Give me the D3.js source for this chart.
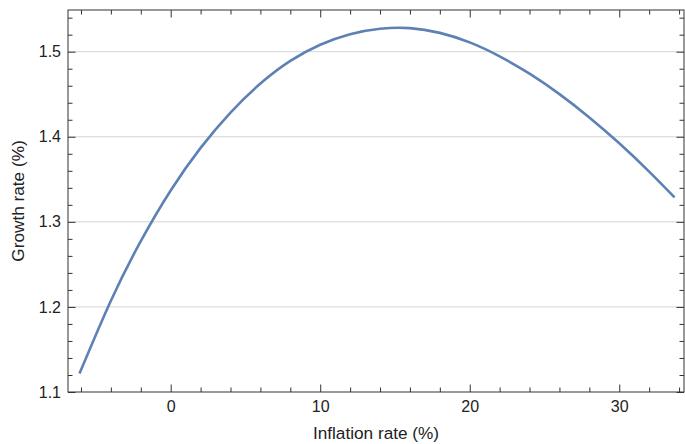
<!DOCTYPE html>
<html>
<head>
<meta charset="utf-8">
<script src="https://cdn.jsdelivr.net/npm/d3@7"></script>
<style>
  body { margin: 0; background: #fff; }
  svg text { font-family: "Liberation Sans", Arial, sans-serif; fill: #222; }
</style>
</head>
<body>
<div id="chart"></div>
<script>
// values
const inflation = [-6.1, -4, -2, 0, 2, 4, 6, 8, 10, 12, 14, 16, 18, 20, 22, 24, 26, 28, 30, 32, 33.7];
const growth = [1.1216, 1.2073, 1.2773, 1.3369, 1.3869, 1.4285, 1.4625, 1.4891, 1.5081, 1.5205, 1.5269, 1.5277,
    1.5221, 1.5109, 1.4945, 1.4741, 1.4501, 1.4227, 1.3923, 1.3591, 1.3287];
const xMajor = [0, 10, 20, 30];
const xMinor = [-6, -4, -2, 2, 4, 6, 8, 12, 14, 16, 18, 22, 24, 26, 28, 32, 34];
const yMajor = [1.1, 1.2, 1.3, 1.4, 1.5];
const yMinor = [1.12, 1.14, 1.16, 1.18, 1.22, 1.24, 1.26, 1.28, 1.32, 1.34, 1.36, 1.38, 1.42, 1.44, 1.46, 1.48, 1.52, 1.54];
const gridY = [1.2, 1.3, 1.4, 1.5];

const W = 685, H = 444;
const margin = {top: 10, right: 1, bottom: 52, left: 68};
const w = W - margin.left - margin.right;
const h = H - margin.top - margin.bottom;

const svg = d3.select('#chart').append('svg')
    .attr('width', W)
    .attr('height', H);
const g = svg.append('g')
    .attr('transform', `translate(${margin.left},${margin.top})`);

const x = d3.scaleLinear().domain([-6.868, 34.33]).range([0, w]);
const y = d3.scaleLinear().domain([1.1, 1.549]).range([h, 0]);

// grid lines
g.selectAll('.grid').data(gridY).enter().append('line')
    .attr('x1', 0).attr('x2', w)
    .attr('y1', d => y(d)).attr('y2', d => y(d))
    .attr('stroke', '#d4d4d4').attr('stroke-width', 1);

// curve
const pts = inflation.map((v, i) => [v, growth[i]]);
g.append('path')
    .datum(pts)
    .attr('fill', 'none')
    .attr('stroke', '#5e81b5')
    .attr('stroke-width', 2.6)
    .attr('d', d3.line().x(d => x(d[0])).y(d => y(d[1])).curve(d3.curveNatural));

function style(sel) {
    sel.select('.domain').remove();
    sel.selectAll('line').attr('stroke', '#333');
    sel.selectAll('text').attr('font-size', 16).attr('fill', '#222');
}

// major & minor ticks on all four sides (inward)
g.append('g').attr('transform', `translate(0,${h})`)
    .call(d3.axisBottom(x).tickValues(xMajor).tickSize(-7.5).tickPadding(9).tickFormat(d3.format('d')))
    .call(style);
g.append('g').attr('transform', `translate(0,${h})`)
    .call(d3.axisBottom(x).tickValues(xMinor).tickSize(-4.5).tickFormat(''))
    .call(style);
g.append('g')
    .call(d3.axisTop(x).tickValues(xMajor).tickSize(-7.5).tickFormat(''))
    .call(style);
g.append('g')
    .call(d3.axisTop(x).tickValues(xMinor).tickSize(-4.5).tickFormat(''))
    .call(style);

g.append('g')
    .call(d3.axisLeft(y).tickValues(yMajor).tickSize(-7.5).tickPadding(7).tickFormat(d3.format('.1f')))
    .call(style);
g.append('g')
    .call(d3.axisLeft(y).tickValues(yMinor).tickSize(-4.5).tickFormat(''))
    .call(style);
g.append('g').attr('transform', `translate(${w},0)`)
    .call(d3.axisRight(y).tickValues(yMajor).tickSize(-7.5).tickFormat(''))
    .call(style);
g.append('g').attr('transform', `translate(${w},0)`)
    .call(d3.axisRight(y).tickValues(yMinor).tickSize(-4.5).tickFormat(''))
    .call(style);

// frame
g.append('rect')
    .attr('x', 0).attr('y', 0).attr('width', w).attr('height', h)
    .attr('fill', 'none').attr('stroke', '#333').attr('stroke-width', 1);

// axis titles
svg.append('text')
    .attr('x', margin.left + w / 2).attr('y', 439)
    .attr('text-anchor', 'middle').attr('font-size', 17.2)
    .text('Inflation rate (%)');
svg.append('text')
    .attr('transform', `translate(24,${margin.top + h / 2}) rotate(-90)`)
    .attr('text-anchor', 'middle').attr('font-size', 17.2)
    .text('Growth rate (%)');
</script>
</body>
</html>
